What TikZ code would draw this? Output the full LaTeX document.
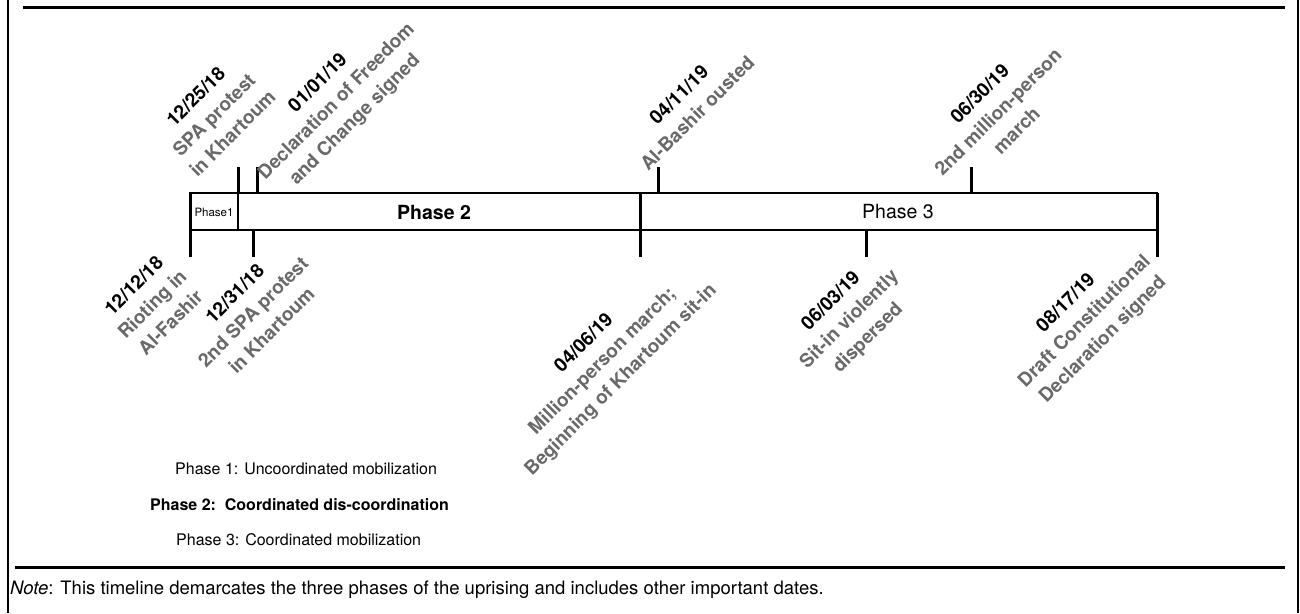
\documentclass[tikz,border=0pt]{standalone}
\usepackage{fontspec}
\setmainfont{TeX Gyre Heros}
\usetikzlibrary{positioning}

\definecolor{descgray}{RGB}{105,105,105}

\tikzset{
  rule/.style={line width=3pt},
  bar/.style={line width=2pt},
  tick/.style={line width=3pt},
  datelbl/.style={rotate=45, align=center, inner sep=0pt,
    font=\fontsize{19}{26}\selectfont\bfseries},
  legend/.style={anchor=west, inner sep=0pt, font=\fontsize{16}{19}\selectfont}
}
\newcommand{\dsc}[1]{{\color{descgray}#1}}

\begin{document}
\begin{tikzpicture}[x=1pt, y=-1pt]
	\useasboundingbox (0,0) rectangle (1300,613);

	% frame
	\draw[line width=2pt] (8,0) -- (8,613);
	\draw[line width=2pt] (1298,0) -- (1298,613);
	\draw[rule] (23,7) -- (1285,7);
	\draw[rule] (15,567) -- (1285,567);

	% the bar
	\coordinate (barnw) at (190,193);
	\coordinate (barse) at (1157,230);
	\draw[bar] (barnw) rectangle (barse);
	\draw[bar] (238,193) -- (238,230);

	% ticks above
	\draw[tick] (238,167) -- (238,193);
	\draw[tick] (257,167) -- (257,193);
	\draw[tick] (658,167) -- (658,193);
	\draw[tick] (971,167) -- (971,193);

	% ticks below
	\draw[tick] (190,193) -- (190,257);
	\draw[tick] (253,230) -- (253,257);
	\draw[tick] (640,193) -- (640,257);
	\draw[tick] (866,230) -- (866,257);
	\draw[tick] (1157,193) -- (1157,257);

	% phase names
	\node[font=\fontsize{11.5}{13}\selectfont, inner sep=0pt] (ph1) at (214,212) {Phase1};
	\node[font=\fontsize{19.5}{22}\selectfont\bfseries, inner sep=0pt] (ph2) at (434,212) {Phase 2};
	\node[font=\fontsize{19.5}{22}\selectfont, inner sep=0pt] (ph3) at (898,212) {Phase 3};

	% dates above
	\node[datelbl] (d1225) at (214,115) {12/25/18\\\dsc{SPA protest}\\\dsc{in Khartoum}};
	\node[datelbl] (d0101) at (337,102) {01/01/19\\\dsc{Declaration of Freedom}\\\dsc{and Change signed}};
	\node[datelbl] (d0411) at (688,104) {04/11/19\\\dsc{Al-Bashir ousted}};
	\node[datelbl] (d0630) at (998,112) {06/30/19\\\dsc{2nd million-person}\\\dsc{march}};

	% dates below
	\node[datelbl] (d1212) at (152,304) {12/12/18\\\dsc{Rioting in}\\\dsc{Al-Fashir}};
	\node[datelbl] (d1231) at (253,312) {12/31/18\\\dsc{2nd SPA protest}\\\dsc{in Khartoum}};
	\node[datelbl] (d0406) at (603,362) {04/06/19\\\dsc{Million-person march;}\\\dsc{Beginning of Khartoum sit-in}};
	\node[datelbl] (d0603) at (850,320) {06/03/19\\\dsc{Sit-in violently}\\\dsc{dispersed}};
	\node[datelbl] (d0817) at (1085,322) {08/17/19\\\dsc{Draft Constitutional}\\\dsc{Declaration signed}};

	% legend
	\node[legend] (leg1) at (175,469) {Phase 1: Uncoordinated mobilization};
	\node[legend, font=\fontsize{16}{19}\selectfont\bfseries] (leg2) at (150,505) {Phase 2:\ \ Coordinated dis-coordination};
	\node[legend] (leg3) at (176,540) {Phase 3: Coordinated mobilization};

	\node[legend, font=\fontsize{18.5}{22}\selectfont] (note) at (10,590) {\textit{Note}: This timeline demarcates the three phases of the uprising and includes other important dates.};
\end{tikzpicture}
\end{document}
